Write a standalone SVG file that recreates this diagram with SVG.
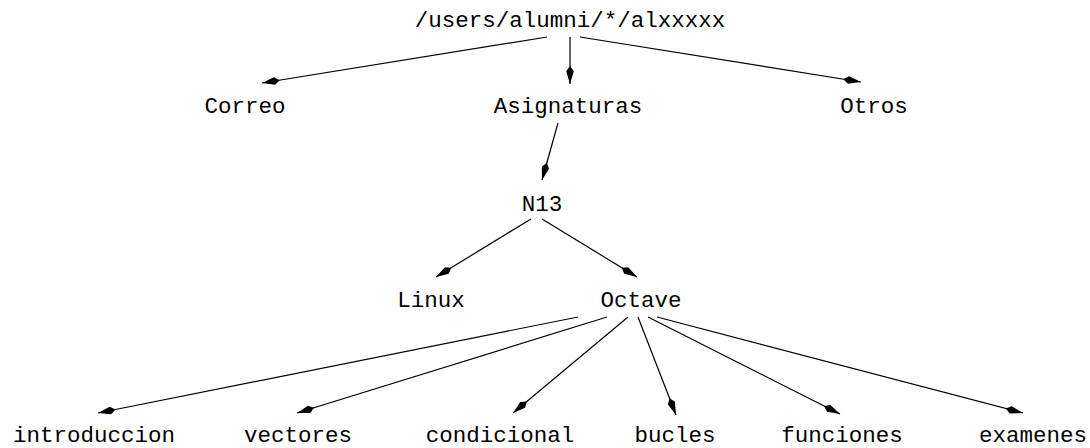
<svg xmlns="http://www.w3.org/2000/svg" width="1090" height="448" viewBox="0 0 1090 448">
  <style>
    text { font-family: "Liberation Mono", "Courier New", monospace; font-size: 22.5px; fill: #000; text-anchor: middle; }
    .edge { stroke: #000; stroke-width: 1.2; fill: none; marker-end: url(#kite); }
  </style>
  <defs>
    <!-- long-nosed filled kite arrowhead -->
    <marker id="kite" markerUnits="userSpaceOnUse" markerWidth="20" markerHeight="12" viewBox="-18 -5 19 10" refX="0" refY="0" orient="auto">
      <path d="M0,0 L-12,-3.6 L-17,0 L-12,3.6 Z" fill="#000"/>
    </marker>
  </defs>

  <g id="connectors">
    <line class="edge" x1="547" y1="37" x2="262" y2="83"/>
    <line class="edge" x1="570" y1="37" x2="570" y2="84"/>
    <line class="edge" x1="580" y1="37" x2="861" y2="82"/>
    <line class="edge" x1="558" y1="123" x2="542" y2="180"/>
    <line class="edge" x1="531" y1="219" x2="436" y2="277"/>
    <line class="edge" x1="542" y1="219" x2="637" y2="277"/>
    <line class="edge" x1="578" y1="317" x2="98" y2="413"/>
    <line class="edge" x1="607" y1="317" x2="297" y2="413"/>
    <line class="edge" x1="628" y1="317" x2="513" y2="413"/>
    <line class="edge" x1="638" y1="317" x2="676" y2="415"/>
    <line class="edge" x1="648" y1="317" x2="840" y2="414"/>
    <line class="edge" x1="657" y1="317" x2="1023" y2="413"/>
  </g>

  <g id="root"><text x="570" y="27">/users/alumni/*/alxxxxx</text></g>
  <g id="correo"><text x="245" y="113">Correo</text></g>
  <g id="asignaturas"><text x="568" y="113">Asignaturas</text></g>
  <g id="otros"><text x="874" y="113">Otros</text></g>
  <g id="n13"><text x="542" y="211">N13</text></g>
  <g id="linux"><text x="431" y="307">Linux</text></g>
  <g id="octave"><text x="641" y="307">Octave</text></g>
  <g id="introduccion"><text x="94" y="442">introduccion</text></g>
  <g id="vectores"><text x="298" y="442">vectores</text></g>
  <g id="condicional"><text x="500" y="442">condicional</text></g>
  <g id="bucles"><text x="675" y="442">bucles</text></g>
  <g id="funciones"><text x="842" y="442">funciones</text></g>
  <g id="examenes"><text x="1033" y="442">examenes</text></g>
</svg>
